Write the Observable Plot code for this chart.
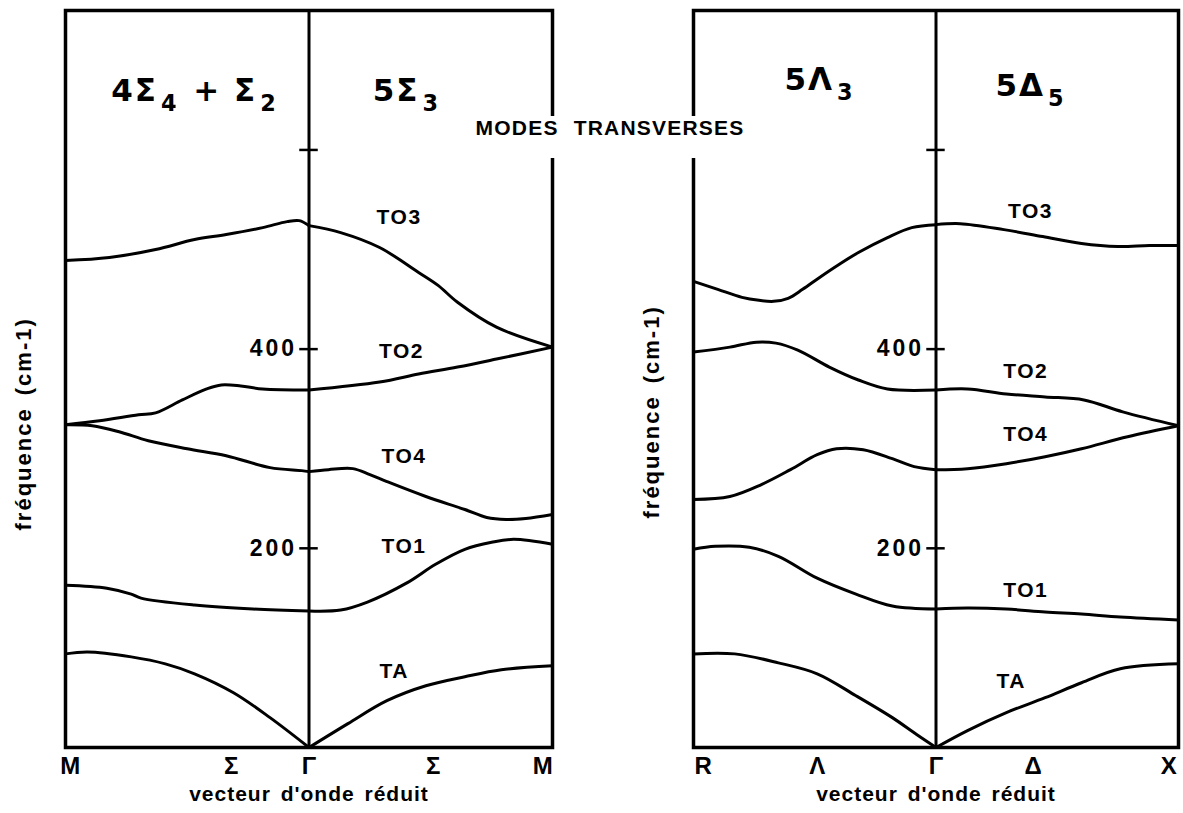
<!DOCTYPE html>
<html><head><meta charset="utf-8">
<script src="https://cdn.jsdelivr.net/npm/d3@7"></script>
<script src="https://cdn.jsdelivr.net/npm/@observablehq/plot@0.6"></script>
<style>
body{margin:0;background:#fff;}
#wrap{position:relative;width:1183px;height:813px;display:flex;}
#title{position:absolute;left:452px;top:116px;width:316px;height:42px;line-height:58px;text-align:center;background:#fff;
 font:bold 21px 'Liberation Sans',Arial,sans-serif;letter-spacing:1.2px;word-spacing:8px;color:#000;}
</style></head>
<body><div id="wrap"><div id="title">MODES TRANSVERSES</div></div>
<script>
// ---- Data (x: reduced wave vector, -1 = zone edge left, 0 = Γ, 1 = zone edge right; y: frequency cm-1)
// Left panel: M – Σ – Γ – Σ – M
const sigmaTO3 = [[-1,489],[-0.82,492],[-0.63,500],[-0.47,510],[-0.34,515],[-0.19,522],[-0.09,528],[-0.04,529],[0,524],[0.13,517],[0.29,502],[0.45,477],[0.53,464],[0.61,447],[0.77,422],[1,402]];
const sigmaTO2 = [[-1,324],[-0.86,328],[-0.7,334],[-0.63,336],[-0.52,349],[-0.42,360],[-0.36,364],[-0.28,363],[-0.19,360],[0,359],[0.29,367],[0.45,375],[0.61,382],[0.77,390],[1,402]];
const sigmaTO4 = [[-1,324],[-0.89,323],[-0.78,317],[-0.66,308],[-0.5,300],[-0.34,293],[-0.16,281],[-0.03,278],[0,277],[0.08,279],[0.18,280],[0.25,274],[0.32,267],[0.48,252],[0.64,239],[0.73,231],[0.81,229],[0.89,230],[1,234]];
const sigmaTO1 = [[-1,163],[-0.83,160],[-0.73,154],[-0.69,150],[-0.47,143],[-0.23,139],[0,137],[0.13,138],[0.24,146],[0.4,165],[0.52,184],[0.64,199],[0.75,206],[0.84,209],[1,204]];
const sigmaTA  = [[-1,94],[-0.91,96],[-0.73,91],[-0.59,84],[-0.47,74],[-0.31,55],[-0.16,30],[0,0],[0.16,24],[0.32,47],[0.48,62],[0.64,71],[0.79,78],[1,82]];
// Right panel: R – Λ – Γ – Δ – X
const lambdaDeltaTO3 = [[-1,468],[-0.9,460],[-0.8,452],[-0.73,449],[-0.67,448],[-0.61,451],[-0.55,460],[-0.48,472],[-0.4,485],[-0.32,497],[-0.2,512],[-0.1,522],[0,525],[0.1,526],[0.28,520],[0.44,513],[0.6,506],[0.75,503],[0.88,504],[1,504]];
const lambdaDeltaTO2 = [[-1,397],[-0.85,402],[-0.74,407],[-0.66,406],[-0.57,399],[-0.44,382],[-0.32,369],[-0.2,360],[0,359],[0.13,360],[0.29,355],[0.45,352],[0.61,349],[0.77,337],[1,323]];
const lambdaDeltaTO4 = [[-1,249],[-0.85,252],[-0.72,264],[-0.6,279],[-0.49,294],[-0.41,300],[-0.3,299],[-0.18,290],[-0.09,282],[0,279],[0.13,280],[0.29,285],[0.45,292],[0.6,300],[0.79,312],[1,323]];
const lambdaDeltaTO1 = [[-1,199],[-0.91,202],[-0.77,201],[-0.65,192],[-0.49,170],[-0.33,154],[-0.18,142],[0,139],[0.13,140],[0.29,139],[0.45,136],[0.6,134],[0.76,131],[1,128]];
const lambdaDeltaTA  = [[-1,94],[-0.83,94],[-0.65,85],[-0.49,74],[-0.33,52],[-0.18,30],[-0.08,13],[0,0],[0.13,17],[0.29,35],[0.45,50],[0.6,65],[0.76,79],[1,84]];

const branchNames = ["TO3","TO2","TO4","TO1","TA"];
const yTicks = [200, 400, 600];
const yTickLabels = [200, 400];
const sigmaPointLabels = [["M",-0.98],["Σ",-0.32],["Γ",0],["Σ",0.51],["M",0.96]];
const lambdaDeltaPointLabels = [["R",-0.96],["Λ",-0.49],["Γ",0],["Δ",0.40],["X",0.96]];
const sigmaBranchLabelPos = [[0.37,532],[0.38,398],[0.39,292],[0.39,202],[0.35,77]];
const lambdaDeltaBranchLabelPos = [[0.39,538],[0.37,378],[0.37,315],[0.37,158],[0.31,67]];
// "_x" marks a subscript character
const sigmaHeaders = [["4Σ_4 + Σ_2",-0.47,659],["5Σ_3",0.40,659]];
const lambdaDeltaHeaders = [["5Λ_3",-0.48,670],["5Δ_5",0.39,664]];
const xTitle = "vecteur d'onde réduit";
const yTitle = "fréquence (cm-1)";

const FONT = "Liberation Sans, Arial, Helvetica, sans-serif";

function rowsOf(series) {
  const rows = [];
  series.forEach((pts, i) => {
    for (const [t, v] of pts) {
      if (t <= 0) rows.push({t, v, z: branchNames[i] + "L"});
      if (t >= 0) rows.push({t, v, z: branchNames[i] + "R"});
    }
  });
  return rows;
}

function panel({width, marginLeft, marginRight, series, pointLabels, labelPos, headers, yTitleV}) {
  const rows = rowsOf(series);
  const branchLabels = branchNames.map((n, i) => ({n, t: labelPos[i][0], v: labelPos[i][1]}));
  return Plot.plot({
    width, height: 813,
    marginLeft, marginRight, marginTop: 10, marginBottom: 66,
    x: {domain: [-1, 1], axis: null},
    y: {domain: [0, 740], axis: null},
    style: {fontFamily: FONT, background: "white", color: "black"},
    marks: [
      Plot.line(rows, {x: "t", y: "v", z: "z", curve: "catmull-rom", stroke: "black", strokeWidth: 3, strokeLinejoin: "round", strokeLinecap: "round"}),
      Plot.ruleX([0], {stroke: "black", strokeWidth: 3}),
      Plot.ruleY(yTicks, {x1: -0.038, x2: 0.038, stroke: "black", strokeWidth: 2.5}),
      Plot.text(yTickLabels, {x: 0, y: d => d, text: d => String(d), textAnchor: "end", dx: -12, fontSize: 23, fontWeight: "bold", fontFamily: FONT}),
      Plot.frame({stroke: "black", strokeWidth: 3.5}),
      Plot.text(branchLabels, {x: "t", y: "v", text: "n", fontSize: 21, fontWeight: "bold", fontFamily: FONT}),
      Plot.text(pointLabels, {x: d => d[1], y: -19, text: d => d[0], fontSize: 24, fontWeight: "bold", fontFamily: FONT}),
      Plot.text([xTitle], {x: 0, y: -47, text: d => d, fontSize: 21, fontWeight: "bold", fontFamily: FONT}),
      Plot.text([yTitle], {x: -1.17, y: yTitleV, text: d => d, rotate: -90, fontSize: 22, fontWeight: "bold", fontFamily: FONT}),
      Plot.text(headers, {x: d => d[1], y: d => d[2], text: d => d[0], fontSize: 31, fontWeight: "bold", fontFamily: "DejaVu Sans, sans-serif"})
    ]
  });
}

const left = panel({width: 620, marginLeft: 65, marginRight: 68,
  series: [sigmaTO3, sigmaTO2, sigmaTO4, sigmaTO1, sigmaTA],
  pointLabels: sigmaPointLabels, labelPos: sigmaBranchLabelPos, headers: sigmaHeaders, yTitleV: 325});
const right = panel({width: 563, marginLeft: 73, marginRight: 5,
  series: [lambdaDeltaTO3, lambdaDeltaTO2, lambdaDeltaTO4, lambdaDeltaTO1, lambdaDeltaTA],
  pointLabels: lambdaDeltaPointLabels, labelPos: lambdaDeltaBranchLabelPos, headers: lambdaDeltaHeaders, yTitleV: 337});

// text post-processing: spacing like the original lettering, real subscripts in headers
for (const svg of [left, right]) {
  d3.select(svg).selectAll("text").each(function() {
    const el = d3.select(this);
    const s = this.textContent;
    if (s.includes("_")) {
      const parts = s.split(/_(.)/);
      el.text(null).attr("letter-spacing", "2px");
      parts.forEach((p, i) => {
        if (!p) return;
        if (i % 2) el.append("tspan").attr("font-size", "0.72em").attr("dy", "0.45em").attr("dx", "3").text(p);
        else el.append("tspan").attr("dy", i ? "-0.32em" : null).attr("dx", i ? "2" : null).text(p);
      });
    } else if (/^(TO|TA)/.test(s)) el.attr("letter-spacing", "1.5px");
    else if (/^\d+$/.test(s)) el.attr("letter-spacing", "3px");
    else if (s === xTitle) el.attr("letter-spacing", "1px").attr("word-spacing", "3px");
    else if (s === yTitle) el.attr("letter-spacing", "2px").attr("word-spacing", "4px");
  });
}
const wrap = document.getElementById("wrap");
wrap.insertBefore(right, wrap.firstChild);
wrap.insertBefore(left, right);
</script></body></html>
